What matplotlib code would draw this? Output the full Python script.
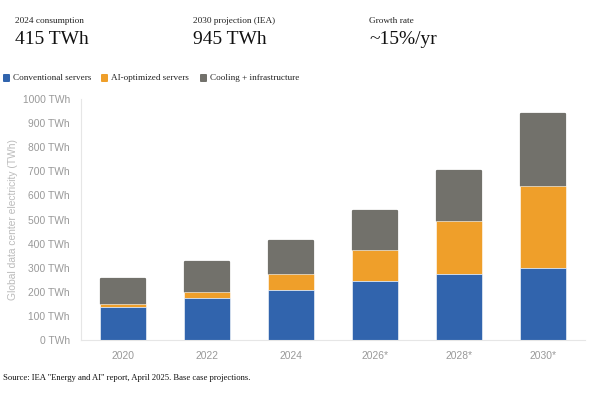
import numpy as np
import matplotlib.pyplot as plt
from matplotlib.patches import FancyBboxPatch

# data (TWh)
years = ['2020', '2022', '2024', '2026*', '2028*', '2030*']
conventional = [138, 173, 207, 243, 274, 299]
ai_optimized = [11, 26, 68, 132, 220, 340]
cooling = [108, 129, 139, 163, 210, 304]
yticks = [0, 100, 200, 300, 400, 500, 600, 700, 800, 900, 1000]

c_blue = '#3164ad'
c_orange = '#ef9f2a'
c_gray = '#72716b'
serif = 'Liberation Serif'
sans = 'Liberation Sans'

fig = plt.figure(figsize=(6, 4), dpi=100)
ax = fig.add_axes([0.135, 0.15, 0.84, 0.6025])

x = np.arange(len(years))
w = 0.55
conv = np.array(conventional)
ai = np.array(ai_optimized)
cool = np.array(cooling)

# gray top segment drawn first with a round-joined edge for soft corners
# (shrunk slightly so the edge stroke keeps it the same size as the others)
ax.bar(x, cool - 4.5, w - 0.026, bottom=conv + ai, color=c_gray, edgecolor=c_gray,
       linewidth=1.6, joinstyle='round')
ax.bar(x, ai, w, bottom=conv, color=c_orange, edgecolor='white', linewidth=0.4)
ax.bar(x, conv, w, color=c_blue, edgecolor='white', linewidth=0.4)

ax.set_xlim(-0.5, len(years) - 0.5)
ax.set_ylim(0, 1000)
ax.set_yticks(yticks)
ax.set_yticklabels([f'{v} TWh' for v in yticks])
ax.set_xticks(x)
ax.set_xticklabels(years)
ax.tick_params(length=0, colors='#999999', labelsize=7.4, pad=8)
for lab in ax.get_xticklabels() + ax.get_yticklabels():
    lab.set_family(sans)
for s in ['top', 'right']:
    ax.spines[s].set_visible(False)
for s in ['left', 'bottom']:
    ax.spines[s].set_color('#e6e6e6')
    ax.spines[s].set_linewidth(0.8)
ax.set_ylabel('Global data center electricity (TWh)', color='#bbbbbb', fontsize=7.4,
              family=sans, labelpad=3)

# header stats
stats = [('2024 consumption', '415 TWh', 15), ('2030 projection (IEA)', '945 TWh', 193),
         ('Growth rate', '~15%/yr', 369)]
for small, big, px in stats:
    fig.text(px / 600, 1 - 23 / 400, small, family=serif, fontsize=6.7, color='#222222')
    fig.text(px / 600, 1 - 44 / 400, big, family=serif, fontsize=14, color='#111111')

# legend
legend_items = [('Conventional servers', c_blue, 3), ('AI-optimized servers', c_orange, 101),
                ('Cooling + infrastructure', c_gray, 200)]
for name, col, px in legend_items:
    fig.patches.append(FancyBboxPatch((px / 600, 1 - 82 / 400), 7 / 600, 8 / 400,
                                      boxstyle='round,pad=0,rounding_size=0.002',
                                      transform=fig.transFigure, facecolor=col,
                                      edgecolor='none', figure=fig))
    fig.text((px + 10) / 600, 1 - 78 / 400, name, family=serif, fontsize=6.6,
             color='#222222', va='center')

fig.text(3 / 600, 1 - 380 / 400, 'Source: IEA "Energy and AI" report, April 2025. Base case projections.',
         family=serif, fontsize=6.2, color='#111111')

fig.savefig('out.png', dpi=100, facecolor='white')
